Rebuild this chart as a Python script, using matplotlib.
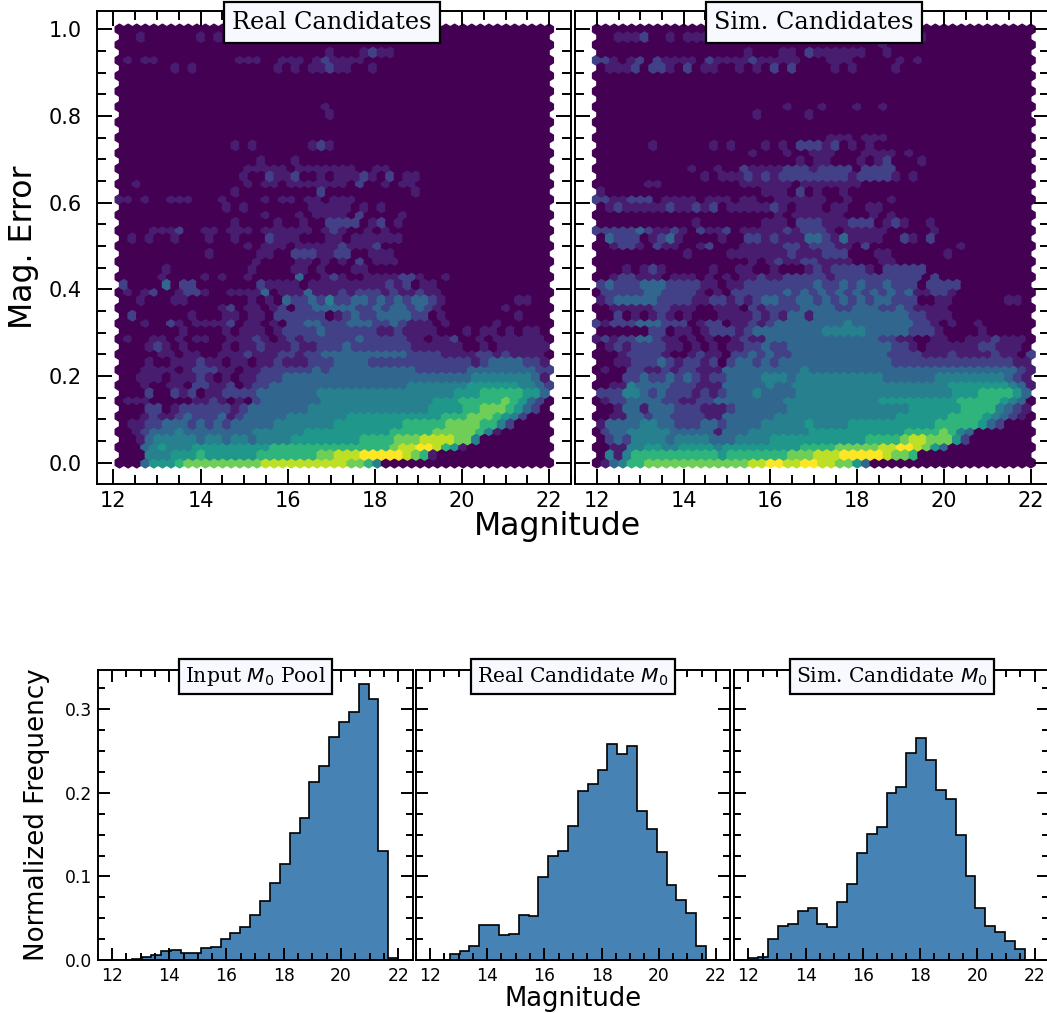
import matplotlib
matplotlib.use("Agg")
import matplotlib.pyplot as plt
import numpy as np
from matplotlib.ticker import MultipleLocator

W, H = 1047, 1013

# colour level (0-9) of every hexagon, bottom row first
HEX_REAL = [
    "000 3 555 6 777777777 8888888888 77 6 4",
    "000 444 555 6 555555 6666666 77 888 99999 8 7 6 1",
    "000 3 4 5 444 555555555 66666666666666 7 88 99 8 6 5 1",
    "001 3 44444 3 44 3 44 3 4444 55555 555 6666 777 8888 77 4",
    "00 1 2 333 4 333 3 3333 444444 5555555555 66666 77777 6 4 1",
    "0 1 1 2 2 333 2 3 2 3 2 33333 4444444 55555555 66666 7777 66 4 2",
    "000 1 2 1 1 2 3 22 2 3 1 2 33333 4444444 55555555555 666 777 6 5 4 2",
    "000 22 0 1 222222 1 2 3333333 44444444444444 5555 66 777 6 5 3 2",
    "0111 00000 11 2 1 0 1 0 2 3333333 4 44444444 4444 555 66666 7 6 5 3 2 0",
    "000 2 00 2 1 2 0 11 2222 3333333 44 44444444444444 555 66666 55 3",
    "000 1 00 11 0 22 11 2 0 1 22 3333333 333333333 4444444 555555 44 3 2",
    "00 111 0 111 2 1 0 1 0 11 222 333333 3333333333333333 4444444 3 1",
    "000 1111 0 1 222 11 0 11 222222 3 2 3333333333 222222 33333333 2 2",
    "0001 00 111 2 11 0 11 0 11 2 111 222 33332222 22222222 1 2 3333 22 1",
    "00000 11 0 11 00 111 2 111 22 1 22 3 333333333 2222 11112 2 1 2 1111 0",
    "000 1 2 1 0 1 0000 1 0 11 2 111 2 11 22 2 3 2222222 111111 00 1 0 111111",
    "0 1 00 11 0 1 0 11 00 111 2 1 0 1 2 1 222 222 3 22222 11 0 11 2 00 1 0 111111 0",
    "0000000 1 0000 1 0 111 0 1 2222 3 2 22222 11 2 1111 000 1 0 11 0 1 0 11 0",
    "000 1 00 2 1 0 1111 2 0 11 0 1 0 22 33 2 22 333 22 3 2 111 0 1 00000 1",
    "0 2 000000 1 000 11 0 11 0 22222 2 0 1 2 3 22 3333 22 0 1 00000000 1",
    "000000000000 1 2 0 1 1 0 1 2 0 2 2 3 3 333 22 3 2 33 2 3 2 1 0000000 1",
    "00 1 000 11 0000000 1 0 1 0 3 22 3 2 4 22 33 2 3 2 3 2 33 2 1 00000000 11",
    "0 1 0 1 2 00 1 22 1 00 1111 3 0 111 3 11 1 2 1 222 1 2 11 2 11",
    "2 0000 3 0 22 0000000 2 11 11 0 1 1 1 1 11111 2 1 2 0 11",
    "00000 1 0000 1 0 1 00 1 00000 3 00 1 2 1 0 0 11 11 22 1 00 1",
    "00000 1 000000000 1 0000 11 0 1 0 00 11",
    "0000000000000000 1 0000 11 0 1 0 1 0 2 0 111",
    "0000000000 1 00000 11 00 22 2 1 1 2 2 00 1 11",
    "000000000000000 1 0 111 0 1111 1 2 111 2",
    "0 1 0 1 00 1 000 1 00 1 000 2 111 000 11 0 111111",
    "0000 111 2 00 11 0 111 0 111111 0 1 2 1 00 1 0 1",
    "0000000000000 1 0000 1 00 1 00 2 22 2 0 1 2 0 1",
    "00000000000000000 1 000 1 0 1 1 1 1 0 2 0000 1",
    "000000000000 1 0 1 0000000 111 11 0 1 0 1",
    "11 0 1 00 111 000 1 0000 1 0 11 0 11 0 1 11",
    "0000000000000 1 000000000 2 0000000000 1",
    "00 1 000000000000 1 0 11 0 1111 1 11 0 2 00 1 0 11",
    "00000000000000 1 00 2 11 2 00 1 0 11 1 2 1 0 2 0 11",
    "000000000000000 11 1 1 1 0 1111 111 00 11",
    "0000000000000000 1 000 1",
    "",
    "0000000000000 1 0 1 000000 1 2 1",
    "",
    "",
    "",
    "000000000000000000000000 1",
    "000000000000000000000000 1",
    "",
    "",
    "",
    "",
    "000000 1 0 1 000000000 1 0 1 0 1 1 2 1 1 00 1",
    "0 1 0 11 000000000 111 00 111 0 1 2 1 111",
    "000000000000000000000000 1 000 1 2 1 1",
    "",
    "00 1 000000 1 0 1 000000 1111111 11 1 2 1",
    "",
]
HEX_SIM = [
    "013466 777777777777 88 99 88 99 88 77 5 3",
    "0 4 1 4 6666666666 5 6666666 777 888 99999 8 77 6",
    "00 11 44 55 44 5555 4 555555555 6666 77777 88 99 8 7 5 3",
    "0 2 3 2 4444 3 4444 3 3 3 4444 55555555555 6666 7 88 77 7 5 2",
    "0 2 33 44444 33333 1 333 4444444 55555555555 6666 7 6 4 3",
    "1 3333 44 33 222 33 2 3333 44444 5 444455555 55555 66666 5 3 2",
    "00 11 33 2 33 2222 11 333333 44444444444444 555555 6666 5 4 3 2 1",
    "00 1 33 1 333 222 111 2 333333 444 44444444444 5555 55 6666 4 3 2 1",
    "0 1 22 3333 22 11 22 33333333 44444444444 555555555 66666 5 4 3 0",
    "222 44 3 2 3 222 1 2 1 2 333 4 3333 44 4444444444444444 555 6666 5 3",
    "00 11 4 3333 222 111 33333 4 33 44 4444444444444444 5555555 4 3 1",
    "000 22 3 22 3 2 3 2 1 22 3333 444 3 44 44444444 333333 44444444 3 2 1",
    "0 1 00 22 11 2 1 22 111 333333333 4 333333333333333333333333 2 1",
    "00 11 222 3 2 1 22 1 2 0 2 33 2 3 2 3333 333333333 22222222222222 11",
    "000 1 2222 1 00 1 2 11 0 22 3 2 3 22 33 333333333 2222 111 2 1111 2 11 0 2",
    "0 1 2 1 2222 11 0 1 0 1 0 11 22 3 22 333 333333333 22 1 0 111111 22 111 0",
    "1 2 1 22 33 2 11 0 1 0 1 00 1 2 11 3333 33 3333333 22 11 00 11 00 111 2 111 0",
    "000000 22 0 11 0 1 222 1 2 3 33 3 3333 44444 33333 222 1 0 000 1",
    "2 1 222 33 3 222 0 1 22 0 11 2 1 2 33333 33 3 4 3 33333 3 22 1 0 1 00 1",
    "00 2 0 1 0 1 2 1 0 1 000 1111 2 1 2 1 33 1 333 3 3 3 33 33 3 22 111",
    "00 11111 22 111 00 111 0 2 1 22 22 3 3 33 22 333 22 3 2 1111",
    "1 2 33 33322 2 2 11 22 1 2 1 2 3322 33 232 3 232 3 3222 00 11 000000 11",
    "0 22 2 22 3 322 22 1 0 1 0 22 22 2 2 323232323232323 11 22 1",
    "2 3 222 33322 22 11 0 1 1 2222 2 2 22 3 22 3 2322322 2 0 222 2",
    "00 1 22 111 0 111 0 1 0 1 0 11 2 11 22222 1 222 2 2 22 22 2 0 2",
    "000 1 0 1 2 1 00000 1 00 11 00 1 000 1 2 1 2222 1 0 2 2222",
    "000000000000000000 1 0 1 2 11 22 1111 000 11",
    "0000000000 1 0000 1111111 2 11 1 222 000 11 000000 1",
    "00 1 22 1 0 2 11 00 1 2 000 11111 22 1 222 11 0 2 0000000000 1",
    "0 3 222 0 1 2 3 1 0000 1 00 22 1 2 111 33 2 1 3 1111 00 2 1 0 2",
    "22222 3 2 11 2 1 0 2 11 2 0 11111 2 1 222 1 0 11111 00000 1",
    "00000000000 1 0000000 111 0 222 111 222 0 1 2 1 00 1",
    "000000000000000000000 1 0 111111 000 1 0 1",
    "0 1 2 11111 2 11 2 1 2 0 11111 2 1 0 111 0 11 00 11",
    "22 11 222 0 1111 0 111 0 11 00 111111 00 1 0000 1",
    "1 000000000000000000 111 0 2 0 1 00 1",
    "000000 11 000000000 111111 0 1111111",
    "000000000000 1 0 111 2 1 2 1 2 222 22 22 1 2222 1 0 1",
    "00000000000 1 00 1 00 2 1111 222 1 2222 0 2222",
    "00000000000000000000000 1 0 11 000 1 0 1 2 000 1",
    "000000000000000000 1 000 1 00 111 000 1111 0 1",
    "000000 1 000000 1 0 1 000 1 0 1 0 222 1 2 0 1 0 1",
    "000000000000000000000000000 111 0 111",
    "",
    "",
    "000000000000000000 1 00000 1",
    "0000000000000000000000 1 000 1 000 1 00 1",
    "",
    "",
    "",
    "",
    "0 111 2 0 22 1 0 2 0 11 00 1 0 1 0 2 0 2 0000 1 0 1 0000 1",
    "22 1 0 1 2 0 2 1111 0 2 1111 2 11111 000 111 00000 1 0 1",
    "00000000000000000 1 000 11 0 2 111111 00 1",
    "000000000000000000000000000000000 1",
    "00 111 2 00 1 0 111 00 1 000000 11 0000000000000 1",
    "",
]
LEVEL_FRACTION = [0, 0.08, 0.19, 0.33, 0.43, 0.53, 0.65, 0.78, 0.9, 1]

MAG_EDGES = np.linspace(12, 22, 30)
INPUT_POOL = [0, 0, 0.001, 0.003, 0.0055, 0.0105, 0.0115, 0.0085, 0.0085, 0.014,
              0.016, 0.025, 0.032, 0.039, 0.054, 0.070, 0.092, 0.115, 0.152, 0.170,
              0.2135, 0.2325, 0.267, 0.285, 0.297, 0.330, 0.3125, 0.131, 0.0025]
REAL_M0 = [0, 0, 0.007, 0.011, 0.017, 0.0415, 0.0415, 0.0295, 0.031, 0.054,
           0.053, 0.099, 0.124, 0.130, 0.160, 0.202, 0.210, 0.227, 0.258, 0.2465,
           0.2565, 0.178, 0.157, 0.129, 0.090, 0.072, 0.0565, 0.0165, 0]
SIM_M0 = [0.0025, 0.004, 0.0255, 0.041, 0.0435, 0.059, 0.0625, 0.043, 0.039, 0.0695,
          0.0905, 0.1275, 0.151, 0.1595, 0.200, 0.207, 0.248, 0.266, 0.239, 0.204,
          0.1925, 0.149, 0.101, 0.062, 0.041, 0.0335, 0.0225, 0.013, 0]


def pixel_axes(fig, left, top, right, bottom):
    return fig.add_axes([left / W, 1 - bottom / H, (right - left) / W, (bottom - top) / H])


def style_axes(ax, major, minor, width, labelsize, ypad):
    ax.tick_params(which="both", direction="in", top=True, right=True, width=width)
    ax.tick_params(which="major", length=major, labelsize=labelsize, pad=5)
    ax.tick_params(axis="y", which="major", pad=ypad)
    ax.tick_params(which="minor", length=minor)
    ax.xaxis.set_major_locator(MultipleLocator(2))
    ax.xaxis.set_minor_locator(MultipleLocator(0.5))
    for spine in ax.spines.values():
        spine.set_linewidth(width)


def box_title(ax, x, y, text, size, pad):
    ax.text(x, y, text, transform=ax.transAxes, ha="center", va="center", fontsize=size,
            family="DejaVu Serif", zorder=10, clip_on=False,
            bbox=dict(boxstyle=f"square,pad={pad}", facecolor="ghostwhite", edgecolor="black", linewidth=1.6))


def draw_hex(ax, rows, xmin):
    sx = (22 - xmin) / 50
    xs, ys, levels = [], [], []
    for r, row in enumerate(rows):
        n = 51 if r % 2 == 0 else 50
        cells = row.replace(" ", "").ljust(n, "0")
        for i, level in enumerate(cells[:n]):
            xs.append(xmin + (i + 0.5 * (r % 2)) * sx)
            ys.append(r / 56)
            levels.append(LEVEL_FRACTION[int(level)])
    ax.hexbin(xs, ys, C=levels, gridsize=50, extent=(xmin, 22, 0, 1), reduce_C_function=np.max,
              cmap="viridis", vmin=0, vmax=1)


def draw_hist(ax, values):
    centers = (MAG_EDGES[:-1] + MAG_EDGES[1:]) / 2
    ax.hist(centers, bins=MAG_EDGES, weights=values, histtype="stepfilled", color="steelblue")
    ax.hist(centers, bins=MAG_EDGES, weights=values, histtype="step", color="black", linewidth=1.2)


fig = plt.figure(figsize=(W / 100, H / 100), dpi=100)

ax1 = pixel_axes(fig, 97.3, 10.7, 571.3, 484)
ax2 = pixel_axes(fig, 575.2, 10.7, 1049, 484)
draw_hex(ax1, HEX_REAL, 12.14)
draw_hex(ax2, HEX_SIM, 12.0)
for ax, xlim in ((ax1, (11.63, 22.51)), (ax2, (11.5, 22.42))):
    style_axes(ax, 10.8, 6.2, 1.4, 15, 11)
    ax.yaxis.set_major_locator(MultipleLocator(0.2))
    ax.yaxis.set_minor_locator(MultipleLocator(0.05))
    ax.set_xlim(xlim)
    ax.set_ylim(-0.049, 1.043)
ax2.tick_params(labelleft=False)
box_title(ax1, 0.495, 0.975, "Real Candidates", 17.3, 0.36)
box_title(ax2, 0.504, 0.975, "Sim. Candidates", 17.3, 0.36)

ax3 = pixel_axes(fig, 97.7, 670, 412.5, 960)
ax4 = pixel_axes(fig, 415.7, 670, 730.2, 960)
ax5 = pixel_axes(fig, 734, 670, 1049, 960)
for ax, values in ((ax3, INPUT_POOL), (ax4, REAL_M0), (ax5, SIM_M0)):
    draw_hist(ax, values)
    style_axes(ax, 8.9, 5, 1.4, 12.3, 4)
    ax.yaxis.set_major_locator(MultipleLocator(0.1))
    ax.yaxis.set_minor_locator(MultipleLocator(0.025))
    ax.set_xlim(11.5, 22.5)
    ax.set_ylim(0, 0.347)
ax4.tick_params(labelleft=False)
ax5.tick_params(labelleft=False)
box_title(ax3, 0.5, 0.978, "Input $M_0$ Pool", 14.6, 0.3)
box_title(ax4, 0.5, 0.978, "Real Candidate $M_0$", 14.6, 0.3)
box_title(ax5, 0.502, 0.978, "Sim. Candidate $M_0$", 14.6, 0.3)

fig.text(557.5 / W, 1 - 527 / H, "Magnitude", fontsize=22.7, ha="center", va="center")
fig.text(24 / W, 1 - 247 / H, "Mag. Error", fontsize=22.7, rotation=90, ha="center", va="center")
fig.text(573.5 / W, 1 - 999 / H, "Magnitude", fontsize=18.6, ha="center", va="center")
fig.text(37 / W, 1 - 815 / H, "Normalized Frequency", fontsize=18.8, rotation=90, ha="center", va="center")

fig.savefig("out.png", dpi=100)
